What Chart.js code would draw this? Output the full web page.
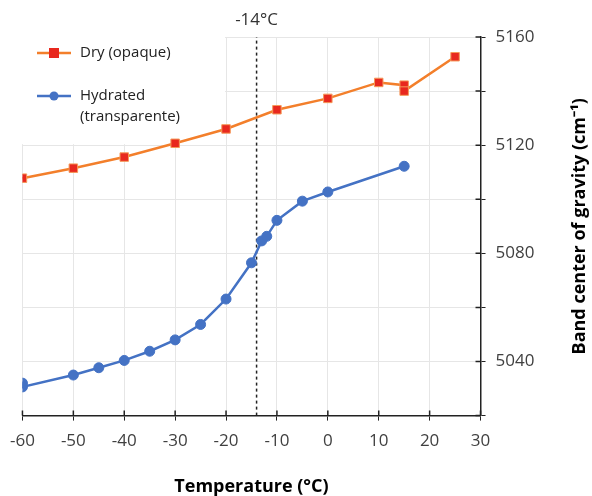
<!DOCTYPE html>
<html>
<head>
<meta charset="utf-8">
<script src="https://cdn.jsdelivr.net/npm/chart.js@4"></script>
<style>
  html, body { margin: 0; padding: 0; background: #fff; }
  #wrap { width: 592px; height: 496px; }
</style>
</head>
<body>
<div id="wrap"><canvas id="chart"></canvas></div>
<script>
const dryTemps = [-60, -50, -40, -30, -20, -10, 0, 10, 15, 15, 25];
const dryValues = [5107.8, 5111.5, 5115.6, 5120.7, 5126, 5133.1, 5137.3, 5143.2, 5142.2, 5140, 5152.7];

const hydTemps = [-60, -60, -50, -45, -40, -35, -30, -25, -20, -15, -13, -12, -10, -5, 0, 15];
const hydValues = [5032, 5030.6, 5035, 5037.7, 5040.4, 5043.8, 5048, 5053.7, 5063.1, 5076.5, 5084.6, 5086.3, 5092.2, 5099.3, 5102.7, 5112.2];

const markTemp = -14;
const markLabel = '-14°C';
const xTicks = [-60, -50, -40, -30, -20, -10, 0, 10, 20, 30];
const yTicks = [5040, 5080, 5120, 5160];
const yRange = [5020, 5160];
const yTitle = 'Band center of gravity (cm⁻¹)';

const FONT = "'Open Sans', sans-serif";

function pts(xs, ys) { return xs.map((x, i) => ({ x: x, y: ys[i] })); }

// legend box in the top left corner of the plot, tick marks crossing the axes,
// the marker label and the y title read bottom to top
const extras = {
  id: 'extras',
  beforeDatasetsDraw(chart) {
    const { ctx, chartArea, scales } = chart;
    const x1 = scales.x.getPixelForValue(-20) - 1;
    const y1 = scales.y.getPixelForValue(5120) - 1;
    ctx.save();
    ctx.fillStyle = '#fff';
    ctx.fillRect(chartArea.left - 1, chartArea.top - 1, x1 - chartArea.left + 1, y1 - chartArea.top + 1);
    ctx.restore();
  },
  afterDraw(chart) {
    const { ctx, chartArea, scales } = chart;
    ctx.save();
    ctx.strokeStyle = '#222';
    ctx.lineWidth = 1.5;
    ctx.beginPath();
    scales.x.ticks.forEach(t => {
      const px = scales.x.getPixelForValue(t.value);
      ctx.moveTo(px, chartArea.bottom);
      ctx.lineTo(px, chartArea.bottom - 5);
    });
    scales.y.ticks.forEach(t => {
      const py = scales.y.getPixelForValue(t.value);
      ctx.moveTo(chartArea.right, py);
      ctx.lineTo(chartArea.right - 5, py);
    });
    ctx.stroke();

    ctx.fillStyle = '#333';
    ctx.font = '17px ' + FONT;
    ctx.textAlign = 'center';
    ctx.textBaseline = 'middle';
    ctx.fillText(markLabel, scales.x.getPixelForValue(markTemp), 20);

    // y title
    ctx.save();
    ctx.translate(580, (chartArea.top + chartArea.bottom) / 2);
    ctx.rotate(-Math.PI / 2);
    ctx.fillStyle = '#000';
    ctx.font = 'bold 18px ' + FONT;
    ctx.fillText(yTitle, 0, 0);
    ctx.restore();

    // legend
    const items = [
      { ds: chart.data.datasets[0], lines: ['Dry (opaque)'], y: 53 },
      { ds: chart.data.datasets[1], lines: ['Hydrated', '(transparente)'], y: 96 }
    ];
    ctx.textAlign = 'left';
    ctx.font = '15px ' + FONT;
    items.forEach(it => {
      ctx.strokeStyle = it.ds.borderColor;
      ctx.lineWidth = 2.5;
      ctx.beginPath();
      ctx.moveTo(37, it.y);
      ctx.lineTo(71, it.y);
      ctx.stroke();
      ctx.fillStyle = it.ds.pointBackgroundColor;
      if (it.ds.pointStyle === 'rect') {
        ctx.fillRect(49, it.y - 5, 10, 10);
      } else {
        ctx.beginPath();
        ctx.arc(54, it.y, 4.5, 0, Math.PI * 2);
        ctx.fill();
      }
      ctx.fillStyle = '#222';
      it.lines.forEach((s, i) => ctx.fillText(s, 80, it.y + i * 21));
    });
    ctx.restore();
  }
};

new Chart(document.getElementById('chart'), {
  type: 'scatter',
  data: {
    datasets: [{
      label: 'Dry (opaque)',
      data: pts(dryTemps, dryValues),
      showLine: true,
      borderColor: '#F37F2B',
      borderWidth: 2.5,
      pointStyle: 'rect',
      pointRadius: 6,
      pointBackgroundColor: '#E8281E',
      pointBorderColor: '#F59A5A',
      pointBorderWidth: 1
    }, {
      label: 'Hydrated (transparente)',
      data: pts(hydTemps, hydValues),
      showLine: true,
      borderColor: '#4472C4',
      borderWidth: 2.5,
      pointStyle: 'circle',
      pointRadius: 5,
      pointBackgroundColor: '#4472C4',
      pointBorderColor: '#4472C4',
      pointBorderWidth: 1
    }, {
      label: 'marker',
      data: pts([markTemp, markTemp], yRange),
      showLine: true,
      borderColor: '#222',
      borderWidth: 1.5,
      borderDash: [3, 3],
      pointRadius: 0
    }]
  },
  options: {
    responsive: true,
    maintainAspectRatio: false,
    animation: false,
    layout: { padding: { top: 37, left: 13, right: 2, bottom: 0 } },
    plugins: { legend: { display: false }, tooltip: { enabled: false } },
    scales: {
      x: {
        type: 'linear',
        min: xTicks[0],
        max: xTicks[xTicks.length - 1],
        afterBuildTicks: s => { s.ticks = xTicks.map(v => ({ value: v })); },
        grid: { color: '#E6E6E6', tickColor: '#222', tickLength: 5 },
        border: { color: '#222', width: 1.5 },
        ticks: { color: '#404040', font: { size: 17, family: FONT }, padding: 10 },
        title: {
          display: true,
          text: 'Temperature (°C)',
          color: '#000',
          font: { size: 18, weight: 'bold', family: FONT, lineHeight: 1 },
          padding: { top: 17, bottom: 0 }
        }
      },
      y: {
        position: 'right',
        min: yRange[0],
        max: yRange[1],
        ticks: {
          stepSize: 20,
          color: '#404040',
          font: { size: 17, family: FONT },
          padding: 10,
          callback: v => yTicks.includes(v) ? String(v) : ''
        },
        grid: { color: '#E6E6E6', tickColor: '#222', tickLength: 5 },
        border: { color: '#222', width: 1.5 },
        title: {
          display: true,
          text: yTitle,
          color: 'rgba(0,0,0,0)',
          font: { size: 18, weight: 'bold', family: FONT },
          padding: { top: 24, bottom: 0 }
        }
      }
    }
  },
  plugins: [extras]
});
</script>
</body>
</html>
